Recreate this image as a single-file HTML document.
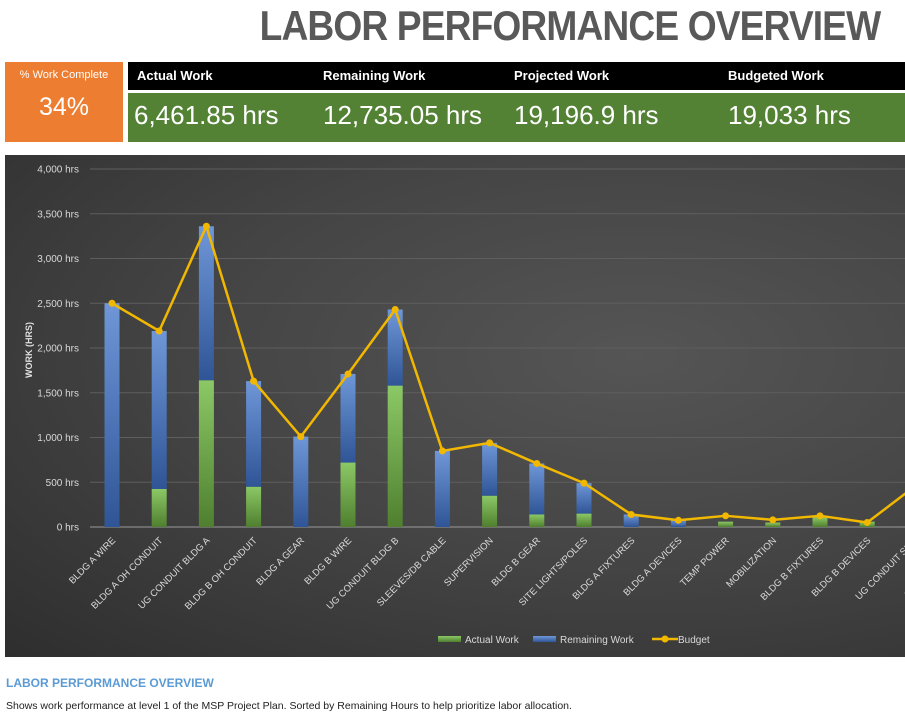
<!DOCTYPE html>
<html><head><meta charset="utf-8"><style>
body{margin:0;width:905px;height:724px;background:#fff;font-family:"Liberation Sans Narrow","Liberation Sans",sans-serif;overflow:hidden;position:relative}
.abs{position:absolute}
#title{right:25px;top:2px;font-size:42px;font-weight:bold;color:#595959;letter-spacing:-1px;white-space:nowrap;transform:scaleX(0.885);transform-origin:right center}
#kpi-pct{left:5px;top:62px;width:118px;height:80px;background:#ed7d31;color:#fff;text-align:center}
#kpi-head{left:128px;top:62px;width:777px;height:28px;background:#000}
#kpi-vals{left:128px;top:93px;width:777px;height:49px;background:#548235}
.h{position:absolute;top:6px;color:#fff;font-weight:bold;font-size:13px}
.v{position:absolute;top:7px;color:#fff;font-size:26px}
#chart{left:5px;top:155px;width:900px;height:502px;background:radial-gradient(ellipse at 70% 40%,#555 0%,#444 50%,#2e2e2e 100%)}
</style></head><body>
<div id="title" class="abs">LABOR PERFORMANCE OVERVIEW</div>
<div id="kpi-pct" class="abs">
 <div style="font-size:11px;margin-top:7px">% Work Complete</div>
 <div style="font-size:25px;margin-top:12px">34%</div>
</div>
<div id="kpi-head" class="abs">
 <div class="h" style="left:9px">Actual Work</div>
 <div class="h" style="left:195px">Remaining Work</div>
 <div class="h" style="left:386px">Projected Work</div>
 <div class="h" style="left:600px">Budgeted Work</div>
</div>
<div id="kpi-vals" class="abs">
 <div class="v" style="left:6px">6,461.85 hrs</div>
 <div class="v" style="left:195px">12,735.05 hrs</div>
 <div class="v" style="left:386px">19,196.9 hrs</div>
 <div class="v" style="left:600px">19,033 hrs</div>
</div>
<div id="chart" class="abs">
<svg id="svg" width="900" height="502" style="position:absolute;left:0;top:0">
<defs>
<linearGradient id="gb" x1="0" x2="0" y1="0" y2="1"><stop offset="0" stop-color="#6f97d8"/><stop offset="1" stop-color="#2f5597"/></linearGradient>
<linearGradient id="gg" x1="0" x2="0" y1="0" y2="1"><stop offset="0" stop-color="#8cc866"/><stop offset="1" stop-color="#4f7f2f"/></linearGradient>
</defs>
</svg>
</div>
<div class="abs" style="left:6px;top:676px;font-size:12px;font-weight:bold;color:#5b9bd5;font-family:'Liberation Sans',sans-serif">LABOR PERFORMANCE OVERVIEW</div>
<div class="abs" style="left:6px;top:700px;font-size:10.5px;color:#222;font-family:'Liberation Sans',sans-serif">Shows work performance at level 1 of the MSP Project Plan. Sorted by Remaining Hours to help prioritize labor allocation.</div>
<script>
const categories=["BLDG A WIRE","BLDG A OH CONDUIT","UG CONDUIT BLDG A","BLDG B OH CONDUIT","BLDG A GEAR","BLDG B WIRE","UG CONDUIT BLDG B","SLEEVES/DB CABLE","SUPERVISION","BLDG B GEAR","SITE LIGHTS/POLES","BLDG A FIXTURES","BLDG A DEVICES","TEMP POWER","MOBILIZATION","BLDG B FIXTURES","BLDG B DEVICES","UG CONDUIT SITE","BLDG B SLEEVES"];
const actualWork=[0,425,1640,450,0,720,1580,0,350,140,150,0,0,60,50,110,60,0,0];
const remainingWork=[2500,1765,1720,1180,1010,990,850,850,590,570,340,140,80,0,0,0,0,450,300];
const budget=[2500,2190,3360,1630,1010,1710,2430,850,940,710,490,140,75,125,80,125,50,450,300];
const yTicks=[0,500,1000,1500,2000,2500,3000,3500,4000];
const tickLabels=["0 hrs","500 hrs","1,000 hrs","1,500 hrs","2,000 hrs","2,500 hrs","3,000 hrs","3,500 hrs","4,000 hrs"];

const svg=document.getElementById('svg');const NS='http://www.w3.org/2000/svg';
const x0=107,step=47.2,y0=372,yTop=14,yMax=4000,bw=15;
const X=i=>x0+i*step, Y=v=>y0-(v/yMax)*(y0-yTop);
function el(t,a){const e=document.createElementNS(NS,t);for(const k in a)e.setAttribute(k,a[k]);svg.appendChild(e);return e;}
yTicks.forEach((t,i)=>{
 const g=el('line',{x1:85,x2:900,y1:Y(t),y2:Y(t),stroke:t===0?'#9a9a9a':'#5e5e5e','stroke-width':1});
 
 
 const l=el('text',{x:74,y:Y(t)+3.5,'text-anchor':'end',fill:'#d9d9d9','font-size':10,'font-family':'Liberation Sans, sans-serif'});
 l.textContent=tickLabels[i];
 
 
});
const yt=el('text',{x:0,y:0,transform:'translate(27,195) rotate(-90)','text-anchor':'middle',fill:'#e0e0e0','font-size':9,'font-weight':'bold','font-family':'Liberation Sans, sans-serif'});
yt.textContent='WORK (HRS)';


categories.forEach((c,i)=>{
 const x=X(i);
 const a=el('rect',{x:x-bw/2,y:Y(actualWork[i]),width:bw,height:y0-Y(actualWork[i]),fill:'url(#gg)'});
 
 
 const top=actualWork[i]+remainingWork[i];
 const r=el('rect',{x:x-bw/2,y:Y(top),width:bw,height:Y(actualWork[i])-Y(top),fill:'url(#gb)'});
 
 
 const t=el('text',{x:0,y:0,transform:`translate(${x+4},${y0+14}) rotate(-45)`,'text-anchor':'end',fill:'#d9d9d9','font-size':9.5,'font-family':'Liberation Sans, sans-serif'});
 t.textContent=c;
 
 
});
const pts=budget.map((v,i)=>X(i)+','+Y(v)).join(' ');
const pl=el('polyline',{points:pts,fill:'none',stroke:'#f2b800','stroke-width':2.5,'stroke-linejoin':'round'});


budget.forEach((v,i)=>{
 const d=el('circle',{cx:X(i),cy:Y(v),r:3.5,fill:'#f2b800'});
 
 
});
const lg=[[433,'url(#gg)','Actual Work'],[528,'url(#gb)','Remaining Work']];
lg.forEach(([lx,f,n])=>{
 const s=el('rect',{x:lx,y:481,width:23,height:6,fill:f});
 
 
 const t=el('text',{x:lx+27,y:488,fill:'#d9d9d9','font-size':10,'font-family':'Liberation Sans, sans-serif'});
 t.textContent=n;
 
 
});
const ll=el('line',{x1:647,x2:673,y1:484,y2:484,stroke:'#f2b800','stroke-width':2.5});


const lc=el('circle',{cx:660,cy:484,r:3.5,fill:'#f2b800'});


const lt=el('text',{x:673,y:488,fill:'#d9d9d9','font-size':10,'font-family':'Liberation Sans, sans-serif'});
lt.textContent='Budget';


</script>
</body></html>
